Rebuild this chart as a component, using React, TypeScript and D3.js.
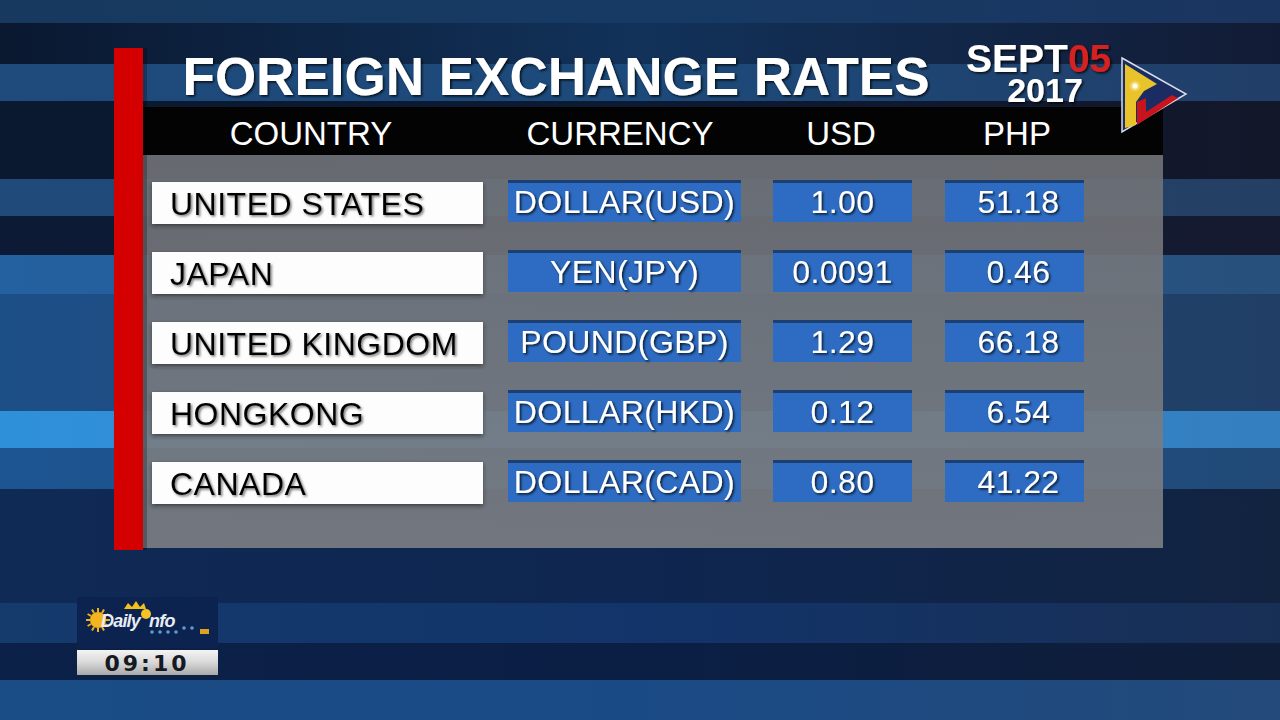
import * as d3 from 'd3';

// table content
const countries = ['UNITED STATES', 'JAPAN', 'UNITED KINGDOM', 'HONGKONG', 'CANADA'];
const currencies = ['DOLLAR(USD)', 'YEN(JPY)', 'POUND(GBP)', 'DOLLAR(HKD)', 'DOLLAR(CAD)'];
const usdRates = ['1.00', '0.0091', '1.29', '0.12', '0.80'];
const phpRates = ['51.18', '0.46', '66.18', '6.54', '41.22'];
const headers = ['COUNTRY', 'CURRENCY', 'USD', 'PHP'];

// background stripes (decoration only): [top, bottom, left colour, middle colour, right colour]
const stripes: [number, number, string, string, string][] = [
  [0, 23, '#17395f', '#163a64', '#1a3560'],
  [23, 64, '#0a1830', '#12325a', '#121b35'],
  [64, 101, '#1f4a7c', '#1c4a7a', '#213e68'],
  [101, 179, '#0a1830', '#0c1a32', '#13172a'],
  [179, 216, '#1f4a7a', '#22466e', '#243f64'],
  [216, 255, '#0c1a35', '#101a32', '#151a30'],
  [255, 294, '#2461a0', '#265890', '#28507c'],
  [294, 411, '#1d4f87', '#1f4776', '#213f66'],
  [411, 448, '#2f90da', '#3188cc', '#347fc0'],
  [448, 489, '#1d5592', '#1f5085', '#214a78'],
  [489, 603, '#0f2a55', '#0e2650', '#122340'],
  [603, 643, '#153a6c', '#12346a', '#182f55'],
  [643, 680, '#0c2148', '#0b1f45', '#0f1d38'],
  [680, 720, '#1a4c86', '#1a4a85', '#234a7a'],
];

const W = 1280;
const H = 720;

const App = () => {
  const rowY = d3.scalePoint<string>().domain(countries).range([203, 483]);
  const colX = d3.scaleOrdinal<string, number>().domain(headers).range([311, 620, 841, 1017]);
  const boxH = 42;

  // cell boxes: x and width per column
  const cols = [
    { x: 152, w: 331 },
    { x: 508, w: 233 },
    { x: 773, w: 139 },
    { x: 945, w: 139 },
  ];

  const fontMain = '"Liberation Sans", Arial, sans-serif';

  return (
    <svg
      width={W}
      height={H}
      style={{ position: 'absolute', left: 0, top: 0, display: 'block' }}
    >
      <defs>
        {stripes.map((s, i) => (
          <linearGradient key={i} id={`st${i}`} x1="0" x2="1" y1="0" y2="0">
            <stop offset="0" stopColor={s[2]} />
            <stop offset="0.5" stopColor={s[3]} />
            <stop offset="1" stopColor={s[4]} />
          </linearGradient>
        ))}
        <linearGradient id="panel" x1="0" x2="0" y1="0" y2="1">
          <stop offset="0" stopColor="#707276" />
          <stop offset="1" stopColor="#7c7f84" />
        </linearGradient>
        <linearGradient id="silver" x1="0" x2="0" y1="0" y2="1">
          <stop offset="0" stopColor="#f4f4f4" />
          <stop offset="0.5" stopColor="#d8d8d8" />
          <stop offset="1" stopColor="#a8a8a8" />
        </linearGradient>
        <radialGradient id="glow" cx="0.5" cy="0.5" r="0.5">
          <stop offset="0" stopColor="#fffbe0" />
          <stop offset="1" stopColor="#fffbe0" stopOpacity="0" />
        </radialGradient>
        <filter id="shDark" x="-10%" y="-30%" width="120%" height="160%">
          <feDropShadow dx="1.5" dy="1.5" stdDeviation="1" floodColor="#000" floodOpacity="0.8" />
        </filter>
        <filter id="shGray" x="-10%" y="-30%" width="120%" height="160%">
          <feDropShadow dx="1.5" dy="1.5" stdDeviation="0.8" floodColor="#555" floodOpacity="0.8" />
        </filter>
        <filter id="boxSh" x="-10%" y="-30%" width="120%" height="160%">
          <feDropShadow dx="0" dy="2" stdDeviation="2" floodColor="#222" floodOpacity="0.6" />
        </filter>
      </defs>

      {/* background */}
      {stripes.map((s, i) => (
        <rect key={i} x={0} y={s[0]} width={W} height={s[1] - s[0]} fill={`url(#st${i})`} />
      ))}

      {/* panel */}
      <rect x={143} y={155} width={1020} height={393} fill="url(#panel)" opacity={0.9} />
      <rect x={143} y={107} width={1020} height={48} fill="#030303" />
      <rect x={114} y={48} width={29} height={502} fill="#d40000" />
      <rect x={143} y={48} width={4} height={502} fill="#000" opacity={0.25} />

      {/* title */}
      <text
        x={556}
        y={95}
        textAnchor="middle"
        fill="#fff"
        fontFamily={fontMain}
        fontWeight="bold"
        fontSize={53}
        filter="url(#shDark)"
      >
        FOREIGN EXCHANGE RATES
      </text>

      {/* headers */}
      {headers.map(h => (
        <text
          key={h}
          x={colX(h)}
          y={145}
          textAnchor="middle"
          fill="#fff"
          fontFamily={fontMain}
          fontSize={33}
        >
          {h}
        </text>
      ))}

      {/* rows */}
      {countries.map((c, i) => {
        const cy = rowY(c) ?? 0;
        const y0 = cy - boxH / 2;
        const vals = [currencies[i], usdRates[i], phpRates[i]];
        return (
          <g key={c}>
            <rect x={cols[0].x} y={y0} width={cols[0].w} height={boxH} fill="#fdfdfd" filter="url(#boxSh)" />
            <text
              x={cols[0].x + 18}
              y={cy + 12}
              fill="#050505"
              fontFamily={fontMain}
              fontSize={32}
              letterSpacing={0.5}
              filter="url(#shGray)"
            >
              {c}
            </text>
            {vals.map((v, j) => {
              const col = cols[j + 1];
              return (
                <g key={j}>
                  <rect x={col.x} y={y0 - 2} width={col.w} height={boxH} fill="#2d6cc2" />
                  <rect x={col.x} y={y0 - 2} width={col.w} height={3} fill="#1c3f72" />
                  <text
                    x={col.x + col.w / 2 + (j === 2 ? 4 : 0)}
                    y={cy + 10}
                    textAnchor="middle"
                    fill="#fff"
                    fontFamily={fontMain}
                    fontSize={32}
                    letterSpacing={0.4}
                    filter="url(#shDark)"
                  >
                    {v}
                  </text>
                </g>
              );
            })}
          </g>
        );
      })}

      {/* date */}
      <g fontFamily={fontMain} fontWeight="bold" filter="url(#shDark)">
        <text x={966} y={72} fill="#fff" fontSize={39}>
          SEPT
          <tspan fill="#d42020">05</tspan>
        </text>
        <text x={1045} y={102} textAnchor="middle" fill="#fff" fontSize={34}>
          2017
        </text>
      </g>

      {/* triangle logo */}
      <g>
        <polygon points="1122,58 1186,94 1122,132" fill="#1b2c62" stroke="#d8dce8" strokeWidth={1.5} />
        <polygon points="1125,64 1157,84 1144,91 1136,102 1136,125 1125,128" fill="#e8c32a" />
        <polygon points="1137,102 1146,98 1146,112 1172,95 1178,98 1137,125" fill="#c8141c" />
        <circle cx={1135} cy={86} r={6} fill="url(#glow)" />
        <circle cx={1135} cy={86} r={2.5} fill="#fffbe8" />
      </g>

      {/* DailyInfo bug */}
      <rect x={77} y={597} width={141} height={51} fill="#0c2350" />
      <g>
        {d3.range(12).map(k => {
          const a = (k / 12) * Math.PI * 2;
          return (
            <line
              key={k}
              x1={98 + Math.cos(a) * 8}
              y1={620 + Math.sin(a) * 8}
              x2={98 + Math.cos(a) * 12}
              y2={620 + Math.sin(a) * 12}
              stroke="#f0b020"
              strokeWidth={2}
            />
          );
        })}
        <circle cx={98} cy={620} r={8} fill="#f3b51d" />
        <path d="M124,609 l4,-6 l4,4 l4,-6 l4,6 l4,-4 l2,6 z" fill="#f2c21c" />
        <circle cx={146} cy={614} r={5} fill="#f6c22a" />
        <text
          x={101}
          y={627}
          fill="#e8ecf4"
          fontFamily={fontMain}
          fontWeight="bold"
          fontStyle="italic"
          fontSize={18}
          letterSpacing={-0.8}
        >
          Daily
          <tspan dx={9}>nfo</tspan>
        </text>
        {d3.range(6).map(k => (
          <circle key={k} cx={152 + k * 8} cy={632 - (k > 3 ? 4 : 0)} r={1.8} fill="#5f9bd0" />
        ))}
        <rect x={200} y={629} width={9} height={5} fill="#e0a020" />
      </g>
      <rect x={77} y={650} width={141} height={25} fill="url(#silver)" />
      <text
        x={147}
        y={671}
        textAnchor="middle"
        fill="#151a22"
        fontFamily={'"DejaVu Sans", sans-serif'}
        fontWeight="bold"
        fontSize={22}
        letterSpacing={3}
      >
        09:10
      </text>
    </svg>
  );
};

export default App;
